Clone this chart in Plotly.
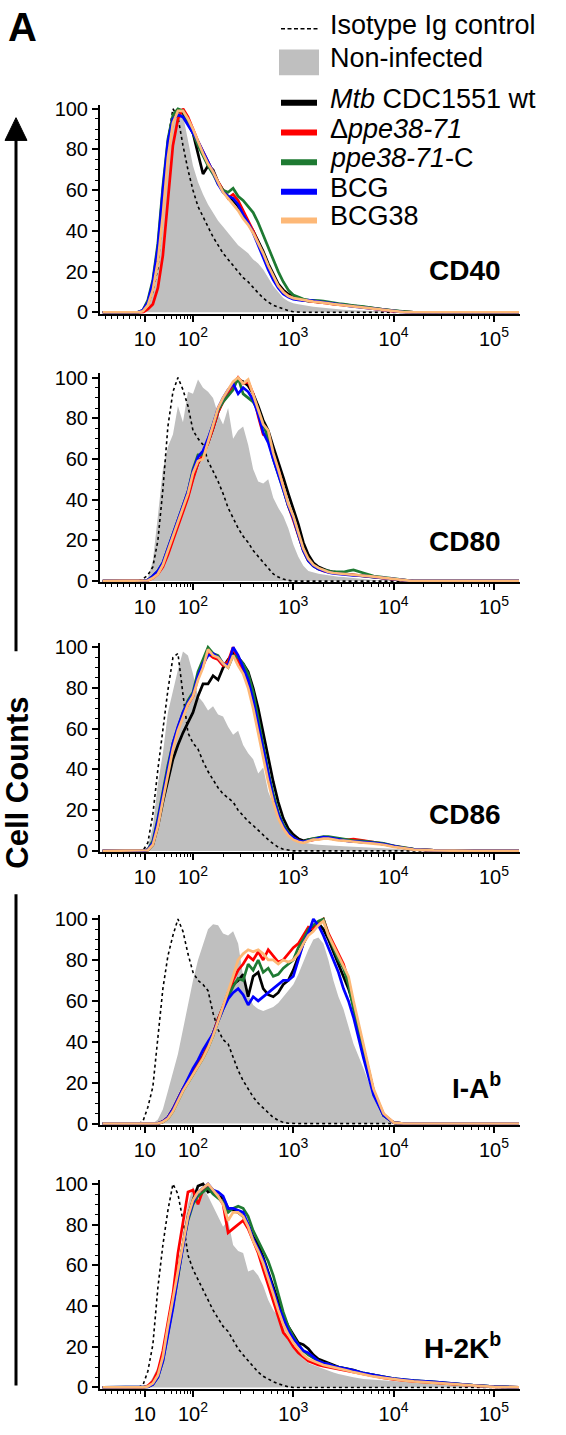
import math
import plotly.graph_objects as go

W, H = 566, 1435
FONT = 'Liberation Sans, Arial, Helvetica, sans-serif'
GRAY = '#bfbfbf'
C_WT, C_KO, C_COMP, C_BCG, C_BCG38 = '#000000', '#ff0000', '#1e7a32', '#0000ff', '#fdb877'

# x = display position on the biexponential FACS axis, in decades (10^2 -> 2, 10^3 -> 3 ...)
X = [1.10, 1.30, 1.40, 1.45,
     1.50, 1.55, 1.60, 1.65, 1.70, 1.75, 1.80, 1.85, 1.90, 1.95,
     2.00, 2.05, 2.10, 2.15, 2.20, 2.25, 2.30, 2.35, 2.40, 2.45,
     2.50, 2.55, 2.60, 2.65, 2.70, 2.75, 2.80, 2.85, 2.90, 2.95,
     3.00, 3.05, 3.10, 3.15, 3.20, 3.25, 3.30, 3.35, 3.40, 3.45,
     3.50, 3.55, 3.60, 3.70, 3.80, 3.90,
     4.00, 4.10, 4.20, 4.40, 4.60, 4.80, 5.00, 5.25]

XTICK_POS = [1.52, 2, 3, 4, 5]
XTICK_TEXT = ['10', '10<sup>2</sup>', '10<sup>3</sup>', '10<sup>4</sup>', '10<sup>5</sup>']
XMINOR_LOW = [1.13, 1.19, 1.25, 1.31, 1.37, 1.43, 1.48,
              1.64, 1.72, 1.79, 1.84, 1.88, 1.92, 1.95, 1.975]
YTICKS = [0, 20, 40, 60, 80, 100]

# ---- CD40 ----
CD40_ISO = [0, 0, 0, 0,
            1, 4, 10, 22, 50, 85, 100, 96, 82, 70,
            60, 52, 47, 42, 37, 33, 29, 26, 23, 20,
            17, 15, 12, 9.5, 7, 5, 3.5, 2.5, 1.5, 0.8,
            0.3, 0, 0, 0, 0, 0, 0, 0, 0, 0,
            0, 0, 0, 0, 0, 0,
            0, 0, 0, 0, 0, 0, 0, 0]
CD40_NI = [0, 0, 0, 0,
           1, 5, 13, 28, 52, 76, 92, 98, 97, 84,
           72, 64, 58, 53, 49, 45, 42, 39, 36, 33,
           31, 29, 26, 24, 21, 17, 13, 10, 7, 5.5,
           4.5, 4, 3.5, 3, 2.8, 2.5, 2.2, 2, 1.8, 1.5,
           1.3, 1.1, 1, 0.7, 0.4, 0.2,
           0, 0, 0, 0, 0, 0, 0, 0]
CD40_WT = [0, 0, 0, 0,
           0.5, 4, 12, 28, 55, 80, 94, 99, 98, 93,
           88, 78, 68, 72, 70, 64, 60, 57, 55, 52,
           48, 44, 40, 35, 30, 24, 19, 14, 11, 9,
           7.5, 6.5, 6, 5.5, 5.5, 5, 5, 4.5, 4.2, 4,
           3.7, 3.3, 3, 2.5, 1.8, 1.2,
           0.6, 0.2, 0, 0, 0, 0, 0, 0]
CD40_KO = [0, 0, 0, 0,
           0, 1.5, 4, 12, 28, 55, 82, 95, 100, 96,
           90, 84, 79, 74, 69, 64, 60, 56, 58, 55,
           50, 45, 40, 34, 28, 22, 17, 13, 10, 8,
           7, 6.5, 6, 5.5, 5.2, 5, 4.8, 4.4, 4, 3.8,
           3.5, 3.2, 3, 2.4, 1.7, 1.1,
           0.5, 0.2, 0, 0, 0, 0, 0, 0]
CD40_COMP = [0, 0, 0, 0,
             1, 6, 16, 34, 62, 85, 97, 100, 99, 94,
             88, 82, 77, 72, 68, 63, 60, 59, 61, 57,
             55, 52, 49, 44, 38, 32, 26, 20, 15, 11,
             8.5, 7.5, 6.5, 6, 6, 5.8, 5.5, 5, 4.6, 4.3,
             4, 3.6, 3.3, 2.8, 2, 1.4,
             0.8, 0.3, 0, 0, 0, 0, 0, 0]
CD40_BCG = [0, 0, 0, 0,
            1, 5, 15, 32, 60, 84, 95, 97, 96, 92,
            88, 84, 79, 74, 69, 63, 59, 57, 56, 53,
            48, 44, 39, 33, 27, 21, 16, 12, 9, 7.5,
            6.5, 6, 5.8, 6, 5.7, 5.2, 5, 4.6, 4.2, 3.9,
            3.6, 3.2, 2.9, 2.3, 1.6, 1,
            0.5, 0.1, 0, 0, 0, 0, 0, 0]
CD40_BCG38 = [0, 0, 0, 0,
              0.5, 3.5, 11, 25, 48, 76, 93, 99, 99, 95,
              90, 84, 78, 73, 69, 64, 59, 56, 53, 50,
              46, 43, 39, 34, 29, 23, 18, 13, 10, 8,
              7, 6.5, 6, 5.5, 5.3, 5, 4.8, 4.4, 4, 3.7,
              3.4, 3.1, 2.8, 2.3, 1.6, 1,
              0.5, 0.1, 0, 0, 0, 0, 0, 0]

# ---- CD80 ----
CD80_ISO = [0, 0, 0, 0,
            1, 3, 7, 20, 45, 76, 93, 100, 94, 86,
            74, 70, 67, 59, 54, 49, 43, 36, 31, 26,
            22, 19, 15, 12, 9, 6, 3.5, 2, 1, 0.4,
            0, 0, 0, 0, 0, 0, 0, 0, 0, 0,
            0, 0, 0, 0, 0, 0,
            0, 0, 0, 0, 0, 0, 0, 0]
CD80_NI = [0, 0, 0, 0,
           0, 1.5, 10, 32, 55, 66, 72, 86, 78, 93,
           92, 99, 95, 93, 90, 82, 77, 85, 70, 74,
           76, 67, 55, 49, 48, 50, 41, 36, 32, 26,
           18, 12, 7.5, 5, 4.2, 3.6, 3.2, 2.8, 2.5, 2.2,
           2, 1.7, 1.4, 1, 0.6, 0.3,
           0, 0, 0, 0, 0, 0, 0, 0]
CD80_WT = [0, 0, 0, 0,
           0, 0.5, 2, 4, 8, 14, 21, 28, 35, 42,
           51, 58, 62, 68, 75, 83, 89, 93, 96, 99,
           98, 96, 92, 86, 79, 74, 66, 59, 51, 43,
           36, 28, 19, 13, 9, 7, 6, 5, 4.5, 4,
           3.6, 3.3, 3, 2.6, 2, 1.4,
           0.8, 0.2, 0, 0, 0, 0, 0, 0]
CD80_KO = [0, 0, 0, 0,
           0, 0.3, 1.5, 3.5, 7, 13, 20, 27, 34, 41,
           50, 58, 62, 68, 75, 83, 88, 92, 96, 100,
           97, 98, 92, 81, 72, 71, 62, 55, 46, 37,
           30, 22, 15, 10, 7.5, 6, 5, 4.5, 4, 3.8,
           3.5, 3.3, 3, 2.7, 2.2, 1.5,
           0.9, 0.3, 0, 0, 0, 0, 0, 0]
CD80_COMP = [0, 0, 0, 0,
             0, 0.5, 2.5, 5, 9, 16, 23, 30, 37, 44,
             55, 62, 62, 70, 77, 84, 88, 91, 94, 100,
             92, 90, 88, 84, 77, 70, 60, 53, 45, 37,
             31, 23, 15, 10, 7.5, 6, 5.5, 5, 4.5, 4.5,
             4.5, 5, 5.5, 4, 2.5, 1.8,
             1.1, 0.4, 0, 0, 0, 0, 0, 0]
CD80_BCG = [0, 0, 0, 0,
            0, 0.5, 2.5, 5, 9, 16, 23, 30, 37, 44,
            54, 61, 64, 70, 77, 85, 90, 94, 97, 92,
            95, 93, 89, 82, 73, 68, 60, 53, 45, 37,
            31, 23, 15, 10, 7.5, 6, 5, 4.3, 3.8, 3.5,
            3.3, 3, 2.8, 2.6, 2.1, 1.6,
            1, 0.4, 0, 0, 0, 0, 0, 0]
CD80_BCG38 = [0, 0, 0, 0,
              0, 0.3, 1.5, 3.5, 8, 15, 22, 29, 36, 43,
              53, 59, 60, 68, 76, 85, 90, 94, 98, 100,
              97, 99, 92, 85, 77, 74, 63, 55, 47, 38,
              32, 24, 16, 11, 8, 6.5, 5.5, 4.5, 4, 3.8,
              3.5, 3.3, 3.1, 2.8, 2.2, 1.6,
              1, 0.3, 0, 0, 0, 0, 0, 0]

# ---- CD86 ----
CD86_ISO = [0, 0, 0, 0,
            0, 4, 18, 40, 60, 79, 95, 97, 77, 58,
            53, 50, 44, 39, 35, 31, 28, 26, 24, 20,
            17, 14.5, 12.5, 10, 8, 5.5, 3.5, 1.8, 0.8, 0.3,
            0, 0, 0, 0, 0, 0, 0, 0, 0, 0,
            0, 0, 0, 0, 0, 0,
            0, 0, 0, 0, 0, 0, 0, 0]
CD86_NI = [0, 0, 0, 0,
           0, 2, 12, 33, 48, 68, 79, 89, 98, 96,
           87, 76, 73, 69, 71, 67, 66, 61, 57, 59,
           52, 48, 45, 38, 41, 29, 23, 17, 11, 7.6,
           5.5, 4.5, 4, 3.5, 3.2, 3, 2.8, 2.7, 2.5, 2.4,
           2.3, 2.2, 2.1, 1.9, 1.6, 1.3,
           1, 0.7, 0.5, 0.2, 0, 0, 0, 0]
CD86_WT = [0, 0, 0, 0,
           0, 0.3, 3, 12, 24, 35, 45, 52, 58, 63,
           68, 76, 82, 82, 86, 84, 90, 94, 97, 95,
           92, 88, 80, 70, 58, 46, 34, 24, 16, 11,
           8, 6, 5, 5.5, 6, 6.3, 6.5, 6.2, 5.8, 5.4,
           5, 4.8, 4.6, 4.3, 4, 3.3,
           2.2, 1.4, 0.8, 0.2, 0, 0, 0, 0]
CD86_KO = [0, 0, 0, 0,
           0, 0.5, 4, 14, 27, 40, 51, 60, 67, 72,
           76, 85, 91, 97, 95, 94, 91, 93, 100, 93,
           88, 82, 72, 60, 48, 36, 26, 18, 12, 8.5,
           6.5, 5, 4.5, 5, 5.3, 5.8, 6.3, 6.5, 6.2, 5.8,
           5.5, 5.6, 5.8, 5, 4.2, 3.5,
           2.3, 1.5, 0.8, 0.2, 0, 0, 0, 0]
CD86_COMP = [0, 0, 0, 0,
             0, 0.6, 5, 16, 29, 42, 53, 61, 68, 74,
             78, 88, 94, 100, 97, 96, 92, 90, 96, 95,
             92, 87, 78, 65, 52, 39, 28, 19, 13, 9,
             6.5, 5, 4.5, 5.5, 6, 6.5, 7, 7, 6.6, 6,
             5.6, 5.3, 5, 4.8, 4.4, 3.7,
             2.5, 1.6, 0.9, 0.3, 0, 0, 0, 0]
CD86_BCG = [0, 0, 0, 0,
            0, 0.5, 4, 15, 28, 41, 53, 61, 68, 73,
            77, 86, 92, 96, 97, 95, 92, 91, 100, 96,
            90, 84, 74, 62, 49, 37, 26, 18, 12, 8.5,
            6.5, 5, 4.5, 5, 5.5, 6, 6.8, 6.5, 6, 5.5,
            5, 4.8, 4.7, 4.4, 4, 3.3,
            2.2, 1.4, 0.8, 0.2, 0, 0, 0, 0]
CD86_BCG38 = [0, 0, 0, 0,
              0, 0.3, 3, 12, 25, 38, 50, 59, 66, 72,
              76, 84, 90, 99, 96, 95, 92, 90, 96, 91,
              87, 80, 70, 58, 46, 34, 24, 16, 11, 7.5,
              5.5, 4.5, 4, 4.8, 5.5, 5.5, 6, 6, 5.5, 5.2,
              5, 4.7, 4.5, 4, 3.6, 3,
              2, 1.2, 0.6, 0.2, 0, 0, 0, 0]

# ---- I-A^b ----
IAB_ISO = [0, 0, 0, 0,
           1, 8, 18, 42, 66, 82, 92, 100, 94, 83,
           74, 70, 68, 65, 54, 46, 41, 39, 32, 26,
           21, 17, 13, 10, 7.5, 5, 3, 1.6, 0.6, 0.2,
           0, 0, 0, 0, 0, 0, 0, 0, 0, 0,
           0, 0, 0, 0, 0, 0,
           0, 0, 0, 0, 0, 0, 0, 0]
IAB_NI = [0, 0, 0, 0,
          0, 0, 0, 2, 7, 16, 25, 34, 46, 58,
          70, 80, 88, 95, 97.5, 97, 93, 92, 94, 88,
          72, 63, 58, 56, 55, 56, 57, 59, 62, 65,
          68, 73, 79, 85, 90, 91, 88, 80, 70, 62,
          56, 47, 39, 27, 14, 4,
          0, 0, 0, 0, 0, 0, 0, 0]
IAB_WT = [0, 0, 0, 0,
          0, 0, 0, 0, 1, 3, 7, 12, 17, 21,
          25, 29, 33, 38, 44, 51, 57, 63, 68, 70,
          73, 62, 72, 74, 66, 63, 62, 64, 68, 70,
          75, 82, 88, 93, 96, 98, 95, 90, 84, 78,
          72, 66, 58, 37, 16, 4,
          0.5, 0, 0, 0, 0, 0, 0, 0]
IAB_KO = [0, 0, 0, 0,
          0, 0, 0, 0, 1, 3, 7, 12, 17, 21,
          25, 29, 33, 38, 44, 51, 57, 64, 70, 75,
          78, 82, 80, 84, 80, 85, 82, 79, 80, 83,
          86, 88, 92, 96, 95, 98, 100, 93, 88, 83,
          78, 70, 58, 36, 16, 4.5,
          0.5, 0, 0, 0, 0, 0, 0, 0]
IAB_COMP = [0, 0, 0, 0,
            0, 0, 0, 0, 0.8, 2.5, 6, 11, 16, 20,
            24, 28, 32, 37, 43, 50, 56, 62, 67, 71,
            70, 78, 75, 80, 74, 76, 72, 73, 76, 78,
            80, 86, 90, 95, 97, 99, 100, 92, 86, 80,
            76, 68, 56, 35, 15, 4,
            0.5, 0, 0, 0, 0, 0, 0, 0]
IAB_BCG = [0, 0, 0, 0,
           0, 0, 0, 0, 1, 3, 7, 12, 17, 22,
           27, 31, 36, 40, 44, 50, 56, 61, 64, 66,
           63, 58, 62, 60, 62, 64, 66, 68, 70, 70,
           72, 80, 88, 93, 100, 97, 92, 86, 80, 74,
           66, 60, 52, 32, 14, 4,
           0.5, 0, 0, 0, 0, 0, 0, 0]
IAB_BCG38 = [0, 0, 0, 0,
             0, 0, 0, 0, 0.8, 2.5, 6, 11, 16, 20,
             24, 28, 32, 37, 43, 50, 57, 64, 72, 80,
             83, 85, 84, 85, 83, 80, 80, 78, 80, 79,
             80, 83, 88, 92, 94, 97, 99, 92, 87, 82,
             77, 72, 60, 38, 17, 5,
             0.5, 0, 0, 0, 0, 0, 0, 0]

# ---- H-2K^b ----
H2K_ISO = [0, 0, 0, 0,
           1, 8, 21, 49, 70, 87, 100, 95, 82, 65,
           58, 53, 48, 43, 38, 34, 30, 27.5, 23, 19,
           16, 13, 10, 7.5, 5.5, 4, 2.8, 1.8, 0.9, 0.3,
           0, 0, 0, 0, 0, 0, 0, 0, 0, 0,
           0, 0, 0, 0, 0, 0,
           0, 0, 0, 0, 0, 0, 0, 0]
H2K_NI = [0, 0, 0, 0,
          0, 1, 5, 10, 18, 29, 43, 58, 76, 90,
          99, 91, 98, 94, 89, 84, 79, 82, 70, 67,
          66, 57, 58, 55, 50, 43, 38, 35, 30, 24,
          20, 16.5, 14, 12, 11, 10, 9, 8, 7.3, 6.6,
          6, 5.4, 5, 4.2, 3.8, 3.4,
          3, 2.7, 2.4, 1.9, 1.2, 0.7, 0.3, 0]
H2K_WT = [0, 0, 0, 0,
          0, 0.5, 2, 6, 15, 28, 42, 58, 72, 84,
          92, 99, 100, 96, 97, 94, 93, 88, 87, 86,
          84, 80, 74, 70, 64, 57, 50, 42, 35, 30,
          26, 22, 21, 19, 16, 14, 13, 12, 11, 10,
          9.5, 9, 8.5, 7, 6, 5,
          4.2, 3.6, 3.2, 2.6, 1.7, 1, 0.4, 0]
H2K_KO = [0, 0, 0, 0,
          0, 0.8, 3, 8, 18, 32, 46, 66, 82, 96,
          97, 90, 97, 99, 96, 94, 90, 76, 78, 80,
          82, 78, 72, 66, 58, 50, 42, 34, 27, 24,
          20, 17, 15, 13, 12, 11, 10.5, 10, 9.5, 9,
          8.5, 8, 7.5, 6.4, 5.5, 4.7,
          4, 3.5, 3, 2.4, 1.5, 0.9, 0.3, 0]
H2K_COMP = [0, 0, 0, 0,
            0, 0.3, 1.5, 5, 13, 27, 39, 54, 70, 82,
            90, 94, 96, 98, 95, 93, 91, 86, 88, 89,
            88, 84, 77, 72, 67, 62, 55, 46, 37, 30,
            25, 21, 18, 16, 14.5, 13, 12, 11.5, 10.5, 10,
            9.5, 9, 8.3, 7, 6, 5.2,
            4.4, 3.8, 3.4, 2.7, 1.7, 1, 0.4, 0]
H2K_BCG = [0, 0, 0, 0,
           0, 0.3, 1.5, 5, 13, 26, 39, 55, 70, 83,
           91, 96, 98, 100, 97, 96, 94, 88, 88, 87,
           86, 80, 73, 68, 63, 56, 48, 40, 34, 28,
           24, 21, 18, 17, 15, 13, 12, 11.5, 10.5, 10,
           9.5, 9, 8.4, 7, 6, 5.2,
           4.4, 3.8, 3.4, 2.8, 1.8, 1, 0.4, 0]
H2K_BCG38 = [0, 0, 0, 0,
             0, 0.5, 2, 6, 15, 30, 44, 58, 72, 84,
             92, 96, 98, 100, 97, 94, 90, 82, 86, 86,
             84, 79, 72, 67, 61, 54, 46, 38, 31, 26,
             22, 19, 16, 14, 13, 12, 11, 10.5, 10, 9.5,
             9, 8.2, 7.5, 6.3, 5.4, 4.7,
             4, 3.5, 3, 2.4, 1.5, 0.9, 0.3, 0]

PANELS = [
    (CD40_ISO, CD40_NI, [CD40_WT, CD40_KO, CD40_COMP, CD40_BCG, CD40_BCG38]),
    (CD80_ISO, CD80_NI, [CD80_WT, CD80_KO, CD80_COMP, CD80_BCG, CD80_BCG38]),
    (CD86_ISO, CD86_NI, [CD86_WT, CD86_KO, CD86_COMP, CD86_BCG, CD86_BCG38]),
    (IAB_ISO, IAB_NI, [IAB_WT, IAB_KO, IAB_COMP, IAB_BCG, IAB_BCG38]),
    (H2K_ISO, H2K_NI, [H2K_WT, H2K_KO, H2K_COMP, H2K_BCG, H2K_BCG38]),
]
PANEL_LABELS = ['<b>CD40</b>', '<b>CD80</b>', '<b>CD86</b>',
                '<b>I-A<sup>b</sup></b>', '<b>H-2K<sup>b</sup></b>']
LINE_COLORS = [C_WT, C_KO, C_COMP, C_BCG, C_BCG38]

LEGEND_TEXT = ['Isotype Ig control', 'Non-infected', '<i>Mtb</i> CDC1551 wt',
               '\u0394<i>ppe38-71</i>', '<i>ppe38-71</i>-C', 'BCG', 'BCG38']

# ---- layout geometry (pixels) ----
TOP100 = [103, 375, 648, 923, 1191]
BASE0 = [309, 581, 854, 1130, 1397]
LABEL_Y = [267, 541, 817, 1092, 1355]
YR = (-0.6, 102)
XR = (1.073, 5.26)
LEG_Y = [22, 56, 97, 127, 157, 187, 216]
TXT_DY = -4   # annotation text sits a little low against its anchor


def fx(p):
    return p / W


def fy(p):
    return 1 - p / H


for iso, ni, lines in PANELS:
    for s in [iso, ni] + lines:
        assert len(s) == len(X), len(s)

xminor = XMINOR_LOW + [n + math.log10(k) for n in (2, 3, 4) for k in range(2, 10)]

fig = go.Figure()
layout = {}
for i, (iso, ni, lines) in enumerate(PANELS):
    n = '' if i == 0 else str(i + 1)
    xa, ya = 'x' + n, 'y' + n
    fig.add_trace(go.Scatter(x=X, y=ni, mode='lines', line=dict(width=0, color=GRAY),
                             fill='tozeroy', fillcolor=GRAY, xaxis=xa, yaxis=ya,
                             showlegend=False, hoverinfo='skip'))
    fig.add_trace(go.Scatter(x=X, y=iso, mode='lines',
                             line=dict(color='black', width=1.6, dash='dot'),
                             xaxis=xa, yaxis=ya, showlegend=False))
    for ys, col in zip(lines, LINE_COLORS):
        fig.add_trace(go.Scatter(x=X, y=ys, mode='lines', line=dict(color=col, width=2.7),
                                 xaxis=xa, yaxis=ya, showlegend=False))

    s = (BASE0[i] - TOP100[i]) / 100
    bottom = BASE0[i] - YR[0] * s
    top = TOP100[i] - (YR[1] - 100) * s
    layout['xaxis' + n] = dict(
        domain=[fx(100), fx(520)], range=list(XR), anchor=ya,
        tickmode='array', tickvals=XTICK_POS, ticktext=XTICK_TEXT,
        ticks='outside', ticklen=6, tickwidth=1.5, tickcolor='black',
        showline=True, linewidth=2, linecolor='black', showgrid=False, zeroline=False,
        tickfont=dict(size=20, color='black', family=FONT),
        minor=dict(tickmode='array', tickvals=xminor, ticks='outside', ticklen=3,
                   tickwidth=1, tickcolor='black'),
    )
    layout['yaxis' + n] = dict(
        domain=[fy(bottom), fy(top)], range=list(YR), anchor=xa,
        tickmode='array', tickvals=YTICKS,
        ticks='outside', ticklen=6, tickwidth=1.5, tickcolor='black',
        showline=True, linewidth=2, linecolor='black', showgrid=False, zeroline=False,
        tickfont=dict(size=20, color='black', family=FONT),
        minor=dict(dtick=5, ticks='outside', ticklen=3, tickwidth=1, tickcolor='black'),
    )

annotations = []
for i, lab in enumerate(PANEL_LABELS):
    annotations.append(dict(text=lab, x=fx(503), y=fy(LABEL_Y[i]), xref='paper', yref='paper',
                            xanchor='right', yanchor='middle', showarrow=False,
                            font=dict(size=28, color='black', family=FONT)))
annotations.append(dict(text='<b>A</b>', x=fx(6), y=fy(20), xref='paper', yref='paper',
                        xanchor='left', yanchor='middle', showarrow=False,
                        font=dict(size=40, color='black', family=FONT)))
annotations.append(dict(text='<b>Cell Counts</b>', x=fx(18), y=fy(785), xref='paper',
                        yref='paper', textangle=-90, showarrow=False,
                        xanchor='center', yanchor='middle',
                        font=dict(size=31, color='black', family=FONT)))
for t, yp in zip(LEGEND_TEXT, LEG_Y):
    annotations.append(dict(text=t, x=fx(328), y=fy(yp + TXT_DY), xref='paper', yref='paper',
                            xanchor='left', yanchor='middle', showarrow=False,
                            font=dict(size=27, color='black', family=FONT)))

shapes = [
    dict(type='line', xref='paper', yref='paper', x0=fx(281), x1=fx(318),
         y0=fy(LEG_Y[0]), y1=fy(LEG_Y[0]),
         line=dict(color='black', width=1.5, dash='4px,2.5px')),
    dict(type='rect', xref='paper', yref='paper', x0=fx(279), x1=fx(319),
         y0=fy(LEG_Y[1] + 13), y1=fy(LEG_Y[1] - 13), fillcolor=GRAY, line=dict(width=0)),
]
for col, yp in zip(LINE_COLORS, LEG_Y[2:]):
    shapes.append(dict(type='line', xref='paper', yref='paper', x0=fx(281), x1=fx(317),
                       y0=fy(yp), y1=fy(yp), line=dict(color=col, width=6)))
# vertical "Cell Counts" arrow
shapes.append(dict(type='line', xref='paper', yref='paper', x0=fx(16), x1=fx(16),
                   y0=fy(132), y1=fy(652), line=dict(color='black', width=3)))
shapes.append(dict(type='line', xref='paper', yref='paper', x0=fx(16), x1=fx(16),
                   y0=fy(898), y1=fy(1395), line=dict(color='black', width=3)))
shapes.append(dict(type='path', xref='paper', yref='paper', fillcolor='black',
                   line=dict(color='black', width=1),
                   path=f'M {fx(16)},{fy(112)} L {fx(5)},{fy(135)} L {fx(27)},{fy(135)} Z'))

fig.update_layout(
    width=W, height=H, margin=dict(l=0, r=0, t=0, b=0),
    paper_bgcolor='white', plot_bgcolor='white',
    font=dict(family=FONT, color='black'),
    annotations=annotations, shapes=shapes, showlegend=False,
    **layout,
)
fig.write_html('out.html', config={'displayModeBar': False},
               post_script="document.body.style.margin='0';")
